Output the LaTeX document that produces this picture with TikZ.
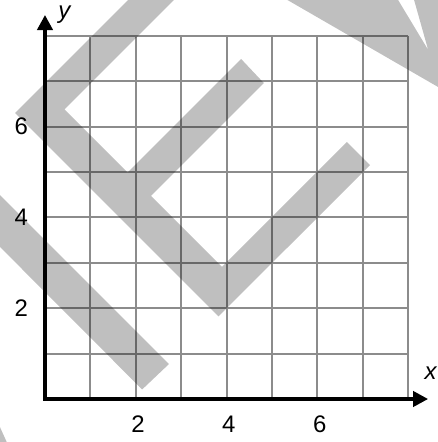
\documentclass[tikz,border=0pt]{standalone}
\usepackage{fontspec}
\setmainfont{Liberation Sans}
\usepackage{tikz}
\usetikzlibrary{arrows.meta}
\usepackage{xcolor}

\begin{document}
\begin{tikzpicture}[
  gridline/.style={draw=black!45,line width=1.3pt},
  axis/.style={line width=2.4pt,{Triangle[length=9.5pt,width=9.5pt]}-{Triangle[length=9.5pt,width=9.5pt]}},
  band/.style={fill=black,fill opacity=.25},
  lab/.style={font=\fontsize{15}{18}\selectfont}]
\useasboundingbox (-0.991,-0.947) rectangle (8.656,8.789);
\coordinate (O) at (0,0);
\coordinate (top) at (8,8);
\coordinate (xend) at (8.44,0);
\coordinate (yend) at (0,8.46);
\draw[gridline] (O) grid (top);
\begin{scope}
\clip (-0.991,-0.947) rectangle (8.656,8.789);
\fill[band] (2.54,9.5)--(-0.66,6.30)--(3.82,1.82)--(7.16,5.15)--(6.65,5.66)--(3.90,2.91)
  --(2.335,4.475)--(4.82,6.96)--(4.32,7.49)--(1.82,4.99)--(0.43,6.38)--(3.55,9.5)--cycle;
\fill[band] (-1.5,5.0)--(2.73,0.77)--(2.14,0.21)--(-1.5,3.86)--cycle;
\fill[band] (-1.2,-0.16)--(-0.76,-1.13)--(-1.5,-1.5)--cycle;
\fill[band] (4.11,9.5)--(9.2,6.56)--(9.2,9.5)--(7.93,9.5)--(8.44,7.69)--(7.35,9.5)--cycle;
\end{scope}
\draw[axis] (yend)--(O)--(xend);
\node[lab] (xlab) at (8.50,0.57) {\textit{x}};
\node[lab] (ylab) at (0.44,8.46) {\textit{y}};
\foreach \i in {2,4,6} {
  \node[lab] (xt\i) at (\i+0.05,-0.55) {\i};
  \node[lab] (yt\i) at (-0.52,\i) {\i};
}
\end{tikzpicture}
\end{document}
